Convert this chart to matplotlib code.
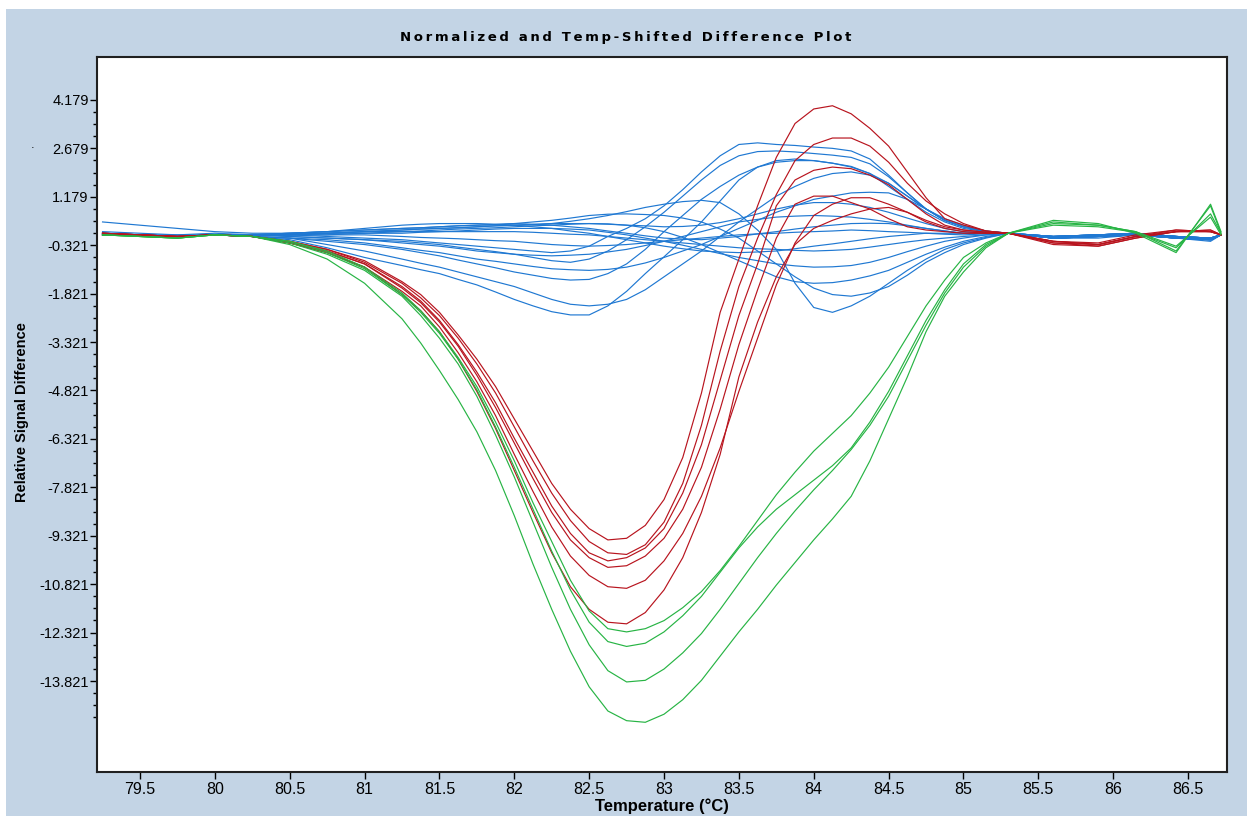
import matplotlib
matplotlib.use("Agg")
import matplotlib.pyplot as plt
from matplotlib.patches import Rectangle
from matplotlib.ticker import FixedLocator

# temperature grid (deg C) shared by all traces
temps = [79.25, 79.5, 79.75, 80.0, 80.25, 80.5, 80.75, 81.0,
	81.25, 81.375, 81.5, 81.625, 81.75, 81.875, 82.0, 82.125, 82.25, 82.375, 82.5,
	82.625, 82.75, 82.875, 83.0, 83.125, 83.25, 83.375, 83.5, 83.625, 83.75,
	83.875, 84.0, 84.125, 84.25, 84.375, 84.5, 84.625, 84.75, 84.875, 85.0,
	85.15, 85.3, 85.6, 85.9, 86.15, 86.42, 86.65, 86.72]

# blue group
blue = [
	[0.05, 0.0, -0.05, 0.0, 0.0, 0.0, -0.05, -0.1,
	 -0.15, -0.2, -0.25, -0.3, -0.35, -0.4, -0.45, -0.5, -0.55, -0.5, -0.35, -0.05, 0.2, 0.5, 0.9, 1.4, 1.95, 2.45, 2.8, 2.85, 2.8, 2.77, 2.72, 2.68, 2.6, 2.35, 1.85, 1.3, 0.8, 0.45, 0.25,
	 0.12, 0.05, -0.1, -0.05, 0.0, -0.1, -0.15, 0.0],
	[0.0, 0.0, -0.05, 0.0, 0.0, -0.05, -0.1, -0.15,
	 -0.2, -0.25, -0.3, -0.38, -0.45, -0.52, -0.6, -0.7, -0.8, -0.85, -0.75, -0.5, -0.15, 0.25, 0.7, 1.2, 1.7, 2.15, 2.45, 2.58, 2.6, 2.57, 2.52, 2.47, 2.4, 2.2, 1.8, 1.3, 0.8, 0.45, 0.25,
	 0.1, 0.05, -0.05, 0.0, 0.05, -0.05, -0.1, 0.0],
	[0.05, 0.0, -0.05, 0.0, -0.05, -0.1, -0.2, -0.3,
	 -0.45, -0.55, -0.65, -0.78, -0.9, -1.02, -1.15, -1.25, -1.35, -1.4, -1.38, -1.2, -0.9, -0.45, 0.1, 0.6, 1.1, 1.5, 1.85, 2.1, 2.25, 2.3, 2.3, 2.22, 2.1, 1.9, 1.6, 1.2, 0.8, 0.45, 0.25,
	 0.1, 0.05, -0.1, -0.05, 0.0, -0.1, -0.15, 0.0],
	[0.0, 0.0, -0.05, 0.0, -0.05, -0.15, -0.4, -0.7,
	 -0.95, -1.08, -1.2, -1.38, -1.55, -1.77, -2.0, -2.2, -2.38, -2.48, -2.48, -2.2, -1.75, -1.2, -0.68, -0.15, 0.4, 1.05, 1.7, 2.1, 2.3, 2.35, 2.3, 2.22, 2.12, 1.9, 1.5, 1.1, 0.7, 0.4, 0.2,
	 0.1, 0.05, -0.1, -0.1, 0.0, -0.1, -0.2, 0.0],
	[0.0, 0.0, -0.05, 0.0, -0.05, -0.1, -0.3, -0.5,
	 -0.75, -0.88, -1.0, -1.15, -1.3, -1.45, -1.6, -1.8, -2.0, -2.15, -2.2, -2.15, -2.0, -1.7, -1.3, -0.9, -0.5, -0.05, 0.4, 0.8, 1.2, 1.5, 1.75, 1.9, 1.95, 1.85, 1.6, 1.2, 0.8, 0.45, 0.25,
	 0.1, 0.05, -0.05, 0.0, 0.05, -0.05, -0.1, 0.0],
	[0.1, 0.05, 0.0, 0.0, -0.05, -0.1, -0.15, -0.25,
	 -0.4, -0.48, -0.55, -0.65, -0.75, -0.82, -0.9, -0.98, -1.05, -1.08, -1.1, -1.07, -1.0, -0.87, -0.7, -0.5, -0.3, -0.05, 0.2, 0.45, 0.7, 0.9, 1.1, 1.2, 1.3, 1.32, 1.3, 1.1, 0.8, 0.5, 0.3,
	 0.12, 0.05, -0.1, -0.05, 0.0, -0.05, -0.1, 0.0],
	[0.0, 0.0, -0.05, 0.0, 0.0, 0.0, 0.05, 0.1,
	 0.15, 0.18, 0.2, 0.22, 0.25, 0.28, 0.3, 0.32, 0.35, 0.42, 0.5, 0.6, 0.72, 0.85, 0.95, 1.03, 1.07, 1.0, 0.65, 0.15, -0.45, -1.5, -2.25, -2.4, -2.2, -1.9, -1.5, -1.1, -0.75, -0.45, -0.25,
	 -0.08, 0.05, -0.1, -0.05, 0.0, -0.1, -0.15, 0.0],
	[0.05, 0.0, -0.05, 0.0, 0.0, 0.05, 0.1, 0.15,
	 0.2, 0.22, 0.25, 0.28, 0.3, 0.32, 0.35, 0.4, 0.45, 0.52, 0.6, 0.64, 0.65, 0.63, 0.6, 0.52, 0.4, 0.18, -0.1, -0.5, -0.9, -1.3, -1.65, -1.85, -1.9, -1.8, -1.6, -1.25, -0.85, -0.55, -0.3,
	 -0.1, 0.05, -0.05, 0.0, 0.05, -0.05, -0.1, 0.0],
	[0.0, 0.0, -0.05, 0.0, 0.0, 0.05, 0.05, 0.1,
	 0.1, 0.12, 0.15, 0.18, 0.2, 0.22, 0.25, 0.28, 0.3, 0.33, 0.35, 0.34, 0.3, 0.22, 0.1, -0.08, -0.3, -0.55, -0.8, -1.05, -1.3, -1.45, -1.5, -1.48, -1.4, -1.27, -1.1, -0.85, -0.6, -0.38, -0.2,
	 -0.05, 0.05, -0.1, -0.05, 0.0, -0.1, -0.15, 0.0],
	[0.05, 0.0, -0.05, 0.0, 0.0, 0.0, 0.05, 0.05,
	 0.1, 0.1, 0.1, 0.12, 0.15, 0.18, 0.2, 0.2, 0.2, 0.18, 0.15, 0.08, 0.0, -0.1, -0.2, -0.32, -0.45, -0.58, -0.7, -0.8, -0.9, -0.96, -1.0, -0.99, -0.95, -0.85, -0.7, -0.52, -0.35, -0.2, -0.1,
	 0.0, 0.05, -0.05, 0.0, 0.05, -0.05, -0.1, 0.0],
	[0.0, 0.0, -0.05, 0.0, 0.0, 0.0, 0.0, 0.05,
	 0.05, 0.08, 0.1, 0.1, 0.1, 0.1, 0.1, 0.08, 0.05, 0.02, 0.0, -0.05, -0.1, -0.15, -0.2, -0.25, -0.3, -0.35, -0.4, -0.43, -0.45, -0.48, -0.5, -0.48, -0.45, -0.38, -0.3, -0.22, -0.15, -0.1, -0.05,
	 0.0, 0.05, -0.1, -0.05, 0.0, -0.1, -0.15, 0.0],
	[0.4, 0.3, 0.2, 0.1, 0.05, 0.05, 0.1, 0.15,
	 0.2, 0.22, 0.25, 0.28, 0.3, 0.32, 0.35, 0.33, 0.3, 0.25, 0.2, 0.12, 0.05, -0.03, -0.1, -0.13, -0.15, -0.1, -0.05, 0.03, 0.1, 0.18, 0.25, 0.3, 0.35, 0.36, 0.35, 0.28, 0.2, 0.12, 0.05,
	 0.05, 0.05, -0.05, 0.0, 0.05, -0.05, -0.1, 0.0],
	[0.05, 0.0, 0.0, 0.05, 0.0, 0.0, 0.0, 0.0,
	 -0.05, -0.08, -0.1, -0.12, -0.15, -0.18, -0.2, -0.25, -0.3, -0.33, -0.35, -0.33, -0.3, -0.25, -0.2, -0.15, -0.1, -0.05, 0.0, 0.03, 0.05, 0.08, 0.1, 0.12, 0.15, 0.13, 0.1, 0.08, 0.05, 0.02, 0.0,
	 0.03, 0.05, -0.1, -0.05, 0.0, -0.1, -0.15, 0.0],
	[0.0, 0.0, -0.05, 0.0, 0.0, -0.05, -0.1, -0.15,
	 -0.25, -0.3, -0.35, -0.42, -0.5, -0.55, -0.6, -0.63, -0.65, -0.63, -0.6, -0.53, -0.45, -0.33, -0.2, -0.05, 0.1, 0.25, 0.4, 0.48, 0.55, 0.58, 0.6, 0.58, 0.55, 0.48, 0.4, 0.3, 0.2, 0.12, 0.05,
	 0.05, 0.05, -0.05, 0.0, 0.05, -0.05, -0.1, 0.0],
	[0.05, 0.0, -0.05, 0.0, 0.0, 0.05, 0.1, 0.2,
	 0.3, 0.33, 0.35, 0.35, 0.35, 0.33, 0.3, 0.25, 0.2, 0.12, 0.05, -0.05, -0.15, -0.25, -0.35, -0.43, -0.5, -0.53, -0.55, -0.53, -0.5, -0.43, -0.35, -0.28, -0.2, -0.12, -0.05, 0.0, 0.05, 0.05, 0.05,
	 0.05, 0.05, -0.1, -0.05, 0.0, -0.1, -0.15, 0.0],
	[0.0, 0.0, -0.05, 0.0, 0.0, 0.0, 0.05, 0.1,
	 0.15, 0.18, 0.2, 0.22, 0.25, 0.28, 0.3, 0.32, 0.35, 0.35, 0.35, 0.33, 0.3, 0.28, 0.25, 0.26, 0.3, 0.38, 0.5, 0.65, 0.8, 0.92, 1.0, 1.0, 0.95, 0.85, 0.7, 0.52, 0.35, 0.2, 0.1,
	 0.07, 0.05, -0.05, 0.0, 0.05, -0.05, -0.1, 0.0],
]

# red group
red = [
	[0.05, 0.0, -0.05, 0.0, -0.05, -0.2, -0.45, -0.8,
	 -1.45, -1.85, -2.4, -3.1, -3.85, -4.7, -5.7, -6.7, -7.7, -8.5, -9.1, -9.45, -9.4, -9.0, -8.2, -6.9, -4.9, -2.4, -0.75, 0.9, 2.4, 3.45, 3.9, 4.0, 3.75, 3.3, 2.75, 1.95, 1.15, 0.5, 0.3,
	 0.12, 0.05, -0.2, -0.3, -0.05, 0.1, 0.1, 0.0],
	[0.05, 0.0, -0.05, 0.0, -0.05, -0.2, -0.45, -0.85,
	 -1.5, -1.95, -2.5, -3.2, -4.0, -4.9, -5.95, -7.0, -8.0, -8.85, -9.5, -9.85, -9.9, -9.6, -8.9, -7.7, -5.9, -3.6, -1.6, -0.1, 1.25, 2.3, 2.8, 3.0, 3.0, 2.75, 2.25, 1.6, 1.05, 0.65, 0.35,
	 0.12, 0.05, -0.25, -0.35, -0.1, 0.1, 0.15, 0.0],
	[0.0, 0.0, -0.05, 0.0, -0.05, -0.25, -0.5, -0.9,
	 -1.6, -2.05, -2.65, -3.4, -4.25, -5.2, -6.3, -7.35, -8.4, -9.25, -9.85, -10.1, -10.0, -9.7, -9.1, -8.0, -6.5, -4.5, -2.5, -0.9, 0.9, 1.7, 2.0, 2.1, 2.05, 1.85, 1.55, 1.1, 0.65, 0.3, 0.15,
	 0.08, 0.05, -0.2, -0.3, -0.05, 0.15, 0.1, 0.0],
	[0.05, 0.0, -0.05, 0.0, -0.05, -0.25, -0.5, -0.9,
	 -1.65, -2.1, -2.7, -3.45, -4.35, -5.35, -6.45, -7.55, -8.6, -9.45, -10.0, -10.3, -10.25, -9.95, -9.4, -8.5, -7.2, -5.4, -3.4, -1.7, -0.1, 0.95, 1.2, 1.2, 1.0, 0.8, 0.5, 0.25, 0.15, 0.1, 0.05,
	 0.05, 0.05, -0.3, -0.35, -0.1, 0.1, 0.1, 0.0],
	[0.0, 0.0, -0.05, 0.0, -0.05, -0.25, -0.55, -1.0,
	 -1.75, -2.2, -2.85, -3.65, -4.55, -5.6, -6.8, -7.95, -9.05, -9.95, -10.55, -10.9, -10.95, -10.7, -10.1, -9.25, -8.1, -6.6, -4.85, -3.2, -1.55, -0.25, 0.6, 0.95, 1.15, 1.15, 0.95, 0.7, 0.4, 0.2, 0.1,
	 0.05, 0.05, -0.2, -0.25, 0.0, 0.15, 0.1, 0.0],
	[0.05, 0.0, -0.05, 0.0, -0.05, -0.25, -0.55, -1.0,
	 -1.85, -2.35, -3.0, -3.85, -4.85, -6.0, -7.3, -8.6, -9.85, -10.9, -11.6, -12.0, -12.05, -11.7, -11.0, -10.0, -8.6, -6.8, -4.4, -2.7, -1.3, -0.3, 0.2, 0.45, 0.65, 0.8, 0.85, 0.7, 0.45, 0.25, 0.15,
	 0.08, 0.05, -0.25, -0.3, -0.05, 0.1, 0.15, 0.0],
]

# green group
green = [
	[0.0, -0.05, -0.1, 0.0, -0.05, -0.3, -0.75, -1.5,
	 -2.6, -3.35, -4.2, -5.1, -6.1, -7.3, -8.7, -10.2, -11.6, -12.9, -14.0, -14.75, -15.05, -15.1, -14.85, -14.4, -13.8, -13.05, -12.3, -11.6, -10.85, -10.15, -9.45, -8.8, -8.1, -7.0, -5.7, -4.4, -3.0, -1.9, -1.15,
	 -0.4, 0.05, 0.35, 0.3, 0.1, -0.5, 0.9, 0.05],
	[0.0, -0.05, -0.1, 0.0, -0.05, -0.25, -0.6, -1.1,
	 -1.9, -2.5, -3.2, -4.0, -5.0, -6.2, -7.5, -8.9, -10.3, -11.6, -12.7, -13.5, -13.85, -13.8, -13.45, -12.95, -12.35, -11.6, -10.8, -10.0, -9.25, -8.55, -7.9, -7.3, -6.65, -5.9, -5.0, -3.9, -2.8, -1.8, -1.0,
	 -0.35, 0.05, 0.45, 0.35, 0.05, -0.55, 0.95, 0.1],
	[0.0, -0.05, -0.1, 0.0, -0.05, -0.2, -0.55, -1.05,
	 -1.85, -2.4, -3.05, -3.85, -4.8, -5.95, -7.2, -8.5, -9.8, -11.0, -12.0, -12.6, -12.75, -12.65, -12.3, -11.8, -11.2, -10.45, -9.7, -9.05, -8.5, -8.05, -7.6, -7.15, -6.6, -5.8, -4.85, -3.75, -2.65, -1.7, -0.9,
	 -0.3, 0.05, 0.3, 0.25, 0.08, -0.4, 0.65, 0.05],
	[0.0, -0.05, -0.1, 0.0, -0.05, -0.2, -0.5, -1.0,
	 -1.8, -2.35, -3.0, -3.8, -4.7, -5.8, -7.0, -8.3, -9.5, -10.7, -11.65, -12.2, -12.3, -12.2, -11.95, -11.55, -11.05, -10.4, -9.65, -8.85, -8.05, -7.35, -6.7, -6.15, -5.6, -4.9, -4.1, -3.15, -2.2, -1.4, -0.7,
	 -0.25, 0.05, 0.4, 0.3, 0.1, -0.35, 0.55, 0.0],
]

title = "Normalized and Temp-Shifted Difference Plot"
xticks = [79.5, 80, 80.5, 81, 81.5, 82, 82.5, 83, 83.5, 84, 84.5, 85, 85.5, 86, 86.5]
yticks = [4.179, 2.679, 1.179, -0.321, -1.821, -3.321, -4.821, -6.321, -7.821,
	-9.321, -10.821, -12.321, -13.821]

sans = ['Liberation Sans', 'DejaVu Sans']


def main():
	fig = plt.figure(figsize=(12.47, 8.16), dpi=100, facecolor='#c3d4e5')
	# thin white strips at top and left of the screenshot
	fig.patches.append(Rectangle((0, 1 - 9 / 816), 1, 9 / 816, transform=fig.transFigure,
		facecolor='white', edgecolor='none', zorder=0))
	fig.patches.append(Rectangle((0, 0), 6 / 1247, 1, transform=fig.transFigure,
		facecolor='white', edgecolor='none', zorder=0))

	ax = fig.add_axes([97 / 1247, 1 - 772 / 816, 1130 / 1247, 715 / 816])
	ax.set_facecolor('white')

	for ys in blue:
		ax.plot(temps, ys, color='#1f78d2', lw=0.85)
	for ys in red:
		ax.plot(temps, ys, color='#b8141e', lw=0.85)
	for ys in green:
		ax.plot(temps, ys, color='#27b444', lw=0.85)

	ax.set_xlim(79.213, 86.76)
	ax.set_ylim(-16.64, 5.51)

	ax.set_xticks(xticks)
	ax.set_xticklabels(['%g' % t for t in xticks], family=sans, fontsize=11.5)
	ax.set_yticks(yticks)
	ax.set_yticklabels(['%.3f' % t for t in yticks], family=sans, fontsize=10.5)
	minor = [4.179 - 0.375 * k for k in range(52) if k % 4 != 0]
	ax.yaxis.set_minor_locator(FixedLocator(minor))
	ax.tick_params(axis='y', which='major', direction='out', length=5, width=1, pad=1)
	ax.tick_params(axis='y', which='minor', direction='out', length=3, width=1)
	ax.tick_params(axis='x', which='major', direction='out', length=5, width=1, pad=2)
	for s in ax.spines.values():
		s.set_linewidth(1.5)
		s.set_color('#202020')

	spaced = '\u2009'.join(title)
	fig.text(626 / 1247, 1 - 37 / 816, spaced, ha='center', va='center',
		fontsize=9.5, fontweight='bold', family='DejaVu Sans')
	fig.text(22 / 1247, 1 - 412 / 816, 'Relative Signal Difference', rotation=90,
		ha='center', va='center', fontsize=10.5, fontweight='bold', family=sans)
	fig.text(662 / 1247, 1 - 806 / 816, 'Temperature (°C)', ha='center', va='center',
		fontsize=12, fontweight='bold', family=sans)
	fig.text(33 / 1247, 1 - 148 / 816, '·', ha='center', va='center', fontsize=8)

	fig.savefig('out.png', dpi=100, facecolor=fig.get_facecolor())


if __name__ == "__main__":
	main()
